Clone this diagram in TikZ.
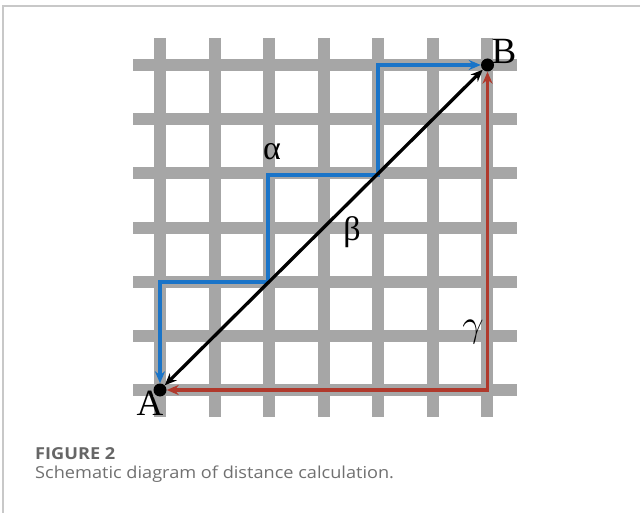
\documentclass[tikz,border=0pt]{standalone}
\usepackage{fix-cm}
\usepackage{fontspec}
\setmainfont{Liberation Serif}
\newfontfamily\capfont[FakeStretch=1.1]{Open Sans}
\usetikzlibrary{arrows.meta}
\definecolor{gridgray}{HTML}{A6A6A6}
\definecolor{pathblue}{HTML}{1A74C8}
\definecolor{pathred}{HTML}{B0392C}
\definecolor{framegray}{HTML}{C8C8C8}
\definecolor{captitlegray}{HTML}{666666}
\definecolor{capgray}{HTML}{707070}
\tikzset{
  gridbar/.style={draw=gridgray, line width=12pt},
  route/.style={line width=3.3pt, {Stealth[length=12pt,width=10pt]}-{Stealth[length=12pt,width=10pt]}},
  dotnode/.style={circle, fill=black, inner sep=0pt, minimum size=13pt},
  lbl/.style={font=\fontsize{37}{42}\selectfont, inner sep=0pt},
  glbl/.style={font=\fontsize{34}{40}\selectfont, inner sep=0pt},
  captitle/.style={font=\capfont\bfseries\fontsize{16.5}{19}\selectfont, text=captitlegray, anchor=base west, inner sep=0pt},
  captext/.style={font=\capfont\fontsize{16.5}{19}\selectfont, text=capgray, anchor=base west, inner sep=0pt},
}
\begin{document}
\begin{tikzpicture}[x=1pt,y=-1pt]
\useasboundingbox (0,0) rectangle (640,513);
% frame
\draw[framegray, line width=1.3pt] (3,513) -- (3,6) -- (640,6);
% grid
\foreach \k in {0,...,6} {
  \draw[gridbar] (133,{65+\k*54.17}) -- (517,{65+\k*54.17});
  \draw[gridbar] ({160+\k*54.55},38) -- ({160+\k*54.55},417);
}
% points
\node[dotnode] (A) at (160,390) {};
\node[dotnode] (B) at (487.5,65) {};
\coordinate (p1) at (268,282);
\coordinate (p2) at (378,175);
% paths
\draw[route, pathred] (A) -| (B);
\draw[route, pathblue] (A) |- (p1) |- (p2) |- (B);
\draw[route, black] (A) -- (B);
% labels
\node[lbl] (la) at (150,403) {A};
\node[lbl] (lb) at (504,51) {B};
\node[glbl] (lal) at (272,152) {α};
\node[glbl] (lbe) at (352,232) {β};
\node[glbl, font=\fontsize{38}{44}\selectfont] (lga) at (473,332) {$\gamma$};
% caption
\node[captitle] (ct) at (35,459) {FIGURE 2};
\node[captext] (cx) at (35,478) {Schematic diagram of distance calculation.};
\end{tikzpicture}
\end{document}
